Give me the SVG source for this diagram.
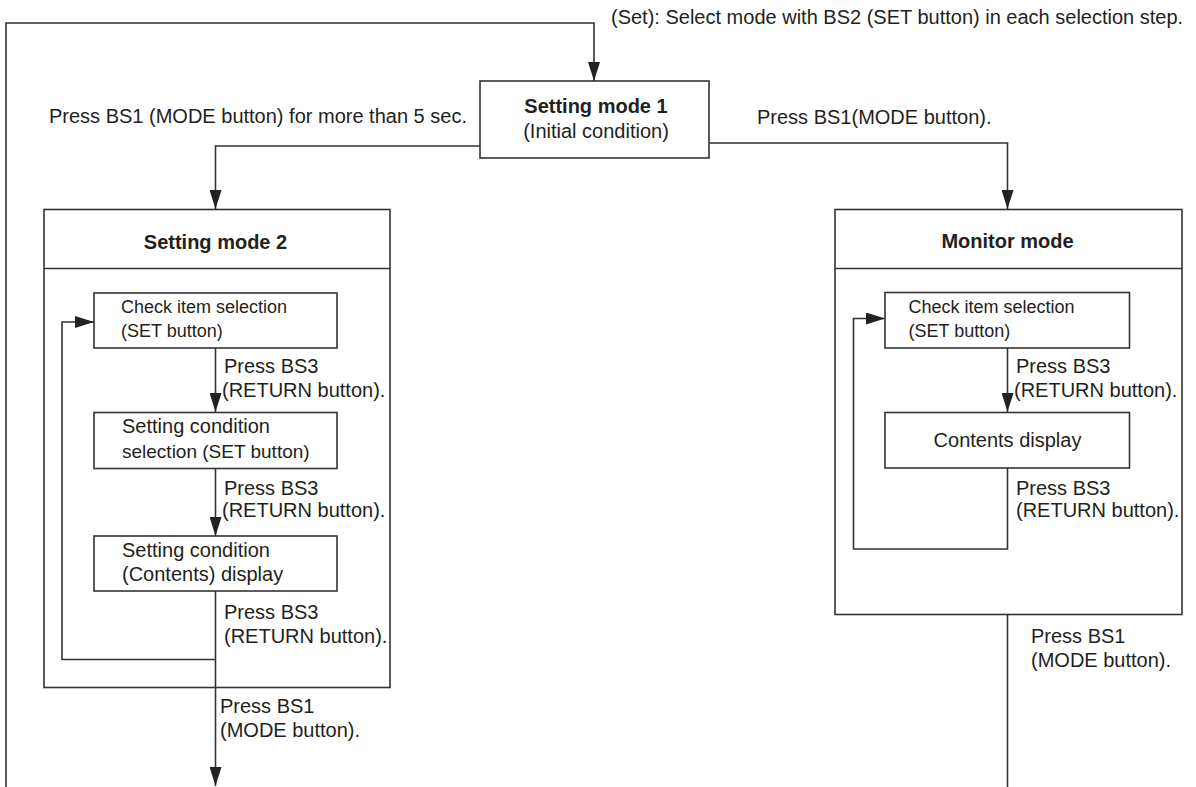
<svg xmlns="http://www.w3.org/2000/svg" width="1196" height="787" viewBox="0 0 1196 787">
<style>
  .bx{fill:#fff;stroke:#333;stroke-width:1.6}
  .ln{fill:none;stroke:#333;stroke-width:1.6}
  .t{font-family:"Liberation Sans",Arial,sans-serif;font-size:20px;fill:#231f20}
  .s{font-size:18px}
  .m{font-size:19px}
  .b{font-weight:bold}
  .c{text-anchor:middle}
</style>
<defs>
  <marker id="arr" markerUnits="userSpaceOnUse" markerWidth="20" markerHeight="12" refX="19" refY="6" orient="auto">
    <path d="M0,0 L19,6 L0,12 z" fill="#222"/>
  </marker>
</defs>
<rect width="1196" height="787" fill="#fff"/>

<g id="connectors">
  <polyline class="ln" points="6,787 6,23 594,23 594,81" marker-end="url(#arr)"/>
  <polyline class="ln" points="480,146 215.5,146 215.5,209" marker-end="url(#arr)"/>
  <polyline class="ln" points="709,143 1007.5,143 1007.5,209" marker-end="url(#arr)"/>
  <!-- Setting mode 2 internals -->
  <line class="ln" x1="215.5" y1="348" x2="215.5" y2="412" marker-end="url(#arr)"/>
  <line class="ln" x1="215.5" y1="468" x2="215.5" y2="536" marker-end="url(#arr)"/>
  <line class="ln" x1="215.5" y1="591" x2="215.5" y2="786" marker-end="url(#arr)"/>
  <polyline class="ln" points="215.5,659.5 62,659.5 62,322 94,322" marker-end="url(#arr)"/>
  <!-- Monitor internals -->
  <line class="ln" x1="1007.5" y1="348" x2="1007.5" y2="412" marker-end="url(#arr)"/>
  <polyline class="ln" points="1007.5,468 1007.5,549 853.5,549 853.5,318.5 885,318.5" marker-end="url(#arr)"/>
  <line class="ln" x1="1007.5" y1="614" x2="1007.5" y2="787"/>

  <text class="t" x="611" y="24">(Set): Select mode with BS2 (SET button) in each selection step.</text>
  <text class="t" x="49" y="123">Press BS1 (MODE button) for more than 5 sec.</text>
  <text class="t" x="757" y="124">Press BS1(MODE button).</text>

  <text class="t" x="224" y="373">Press BS3</text>
  <text class="t" x="222" y="397">(RETURN button).</text>
  <text class="t" x="224" y="495">Press BS3</text>
  <text class="t" x="222" y="517">(RETURN button).</text>
  <text class="t" x="224" y="619">Press BS3</text>
  <text class="t" x="224" y="643">(RETURN button).</text>
  <text class="t" x="220" y="713">Press BS1</text>
  <text class="t" x="220" y="737">(MODE button).</text>

  <text class="t" x="1016" y="373">Press BS3</text>
  <text class="t" x="1014" y="397">(RETURN button).</text>
  <text class="t" x="1016" y="495">Press BS3</text>
  <text class="t" x="1016" y="517">(RETURN button).</text>
  <text class="t" x="1031" y="643">Press BS1</text>
  <text class="t" x="1031" y="667">(MODE button).</text>
</g>

<g id="setting-mode-1">
  <rect class="bx" x="480" y="81" width="229" height="77"/>
  <text class="t b c" x="596" y="113">Setting mode 1</text>
  <text class="t c" x="596" y="138">(Initial condition)</text>
</g>

<g id="setting-mode-2">
  <rect class="ln" x="44" y="209.5" width="346" height="478"/>
  <line class="ln" x1="44" y1="268.5" x2="390" y2="268.5"/>
  <text class="t b c" x="215.5" y="249">Setting mode 2</text>
</g>
<g id="sm2-check-item">
  <rect class="bx" x="94" y="293" width="243" height="55"/>
  <text class="t s" x="121" y="313">Check item selection</text>
  <text class="t s" x="121" y="337">(SET button)</text>
</g>
<g id="sm2-condition-selection">
  <rect class="bx" x="94" y="412.5" width="243" height="56"/>
  <text class="t" x="122" y="433">Setting condition</text>
  <text class="t m" x="122" y="458">selection (SET button)</text>
</g>
<g id="sm2-condition-display">
  <rect class="bx" x="94" y="536" width="243" height="55"/>
  <text class="t" x="122" y="557">Setting condition</text>
  <text class="t" x="122" y="581">(Contents) display</text>
</g>

<g id="monitor-mode">
  <rect class="ln" x="835" y="209.5" width="347" height="405"/>
  <line class="ln" x1="835" y1="268.5" x2="1182" y2="268.5"/>
  <text class="t b c" x="1007.5" y="248">Monitor mode</text>
</g>
<g id="mon-check-item">
  <rect class="bx" x="885" y="292.5" width="244.5" height="55.5"/>
  <text class="t s" x="908.5" y="313">Check item selection</text>
  <text class="t s" x="908.5" y="337">(SET button)</text>
</g>
<g id="mon-contents-display">
  <rect class="bx" x="885" y="412.5" width="244.5" height="55.5"/>
  <text class="t c" x="1007.5" y="447">Contents display</text>
</g>
</svg>
